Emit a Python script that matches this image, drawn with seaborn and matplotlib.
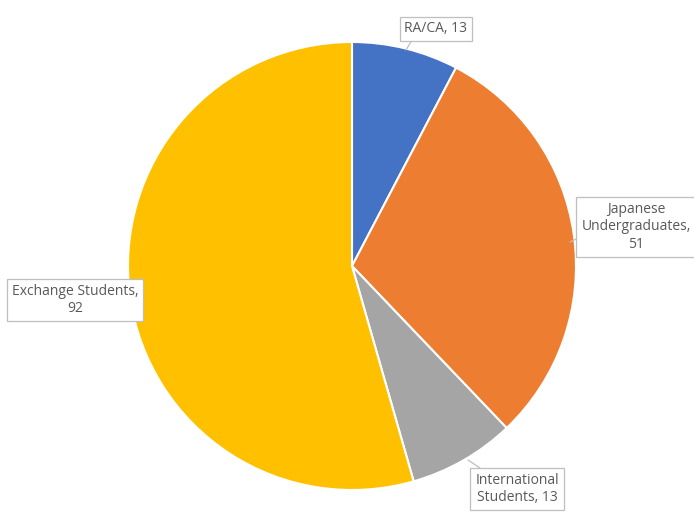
import matplotlib.pyplot as plt
import seaborn as sns

groups = ["RA/CA", "Japanese\nUndergraduates", "International\nStudents", "Exchange Students"]
counts = [13, 51, 13, 92]
label_texts = ["RA/CA, 13", "Japanese\nUndergraduates,\n51", "International\nStudents, 13", "Exchange Students,\n92"]
colors = ["#4472C4", "#ED7D31", "#A5A5A5", "#FFC000"]

sns.set_theme(style="white")
plt.rcParams["font.family"] = ["Open Sans", "DejaVu Sans"]

W, H = 694, 512
fig = plt.figure(figsize=(W / 100, H / 100), dpi=100)
ax = fig.add_axes([0, 0, 1, 1])

cx, cy, r = 352, H - 266, 224
ax.pie(counts, colors=colors, startangle=90, counterclock=False,
       center=(cx, cy), radius=r,
       wedgeprops=dict(edgecolor="white", linewidth=1.5))
ax.set_xlim(0, W)
ax.set_ylim(0, H)
ax.set_aspect("equal")
ax.axis("off")

# label boxes (pixel positions, y from top) and leader points
box_pos = [(436, 29), (636, 227), (517, 489), (75, 300)]
leaders = [((412, 40), (406, 50)), ((578, 238), (570, 242)), ((480, 468), (468, 460)), None]
bbox = dict(boxstyle="square,pad=0.35", fc="white", ec="#BFBFBF", lw=0.9)
for txt, (x, y), ld in zip(label_texts, box_pos, leaders):
    if ld is not None:
        (x0, y0), (x1, y1) = ld
        ax.plot([x0, x1], [H - y0, H - y1], color="#BFBFBF", lw=0.9)
    ax.text(x, H - y, txt, ha="center", va="center", fontsize=10,
            color="#595959", bbox=bbox, linespacing=1.25)

plt.savefig("out.png", dpi=100)
